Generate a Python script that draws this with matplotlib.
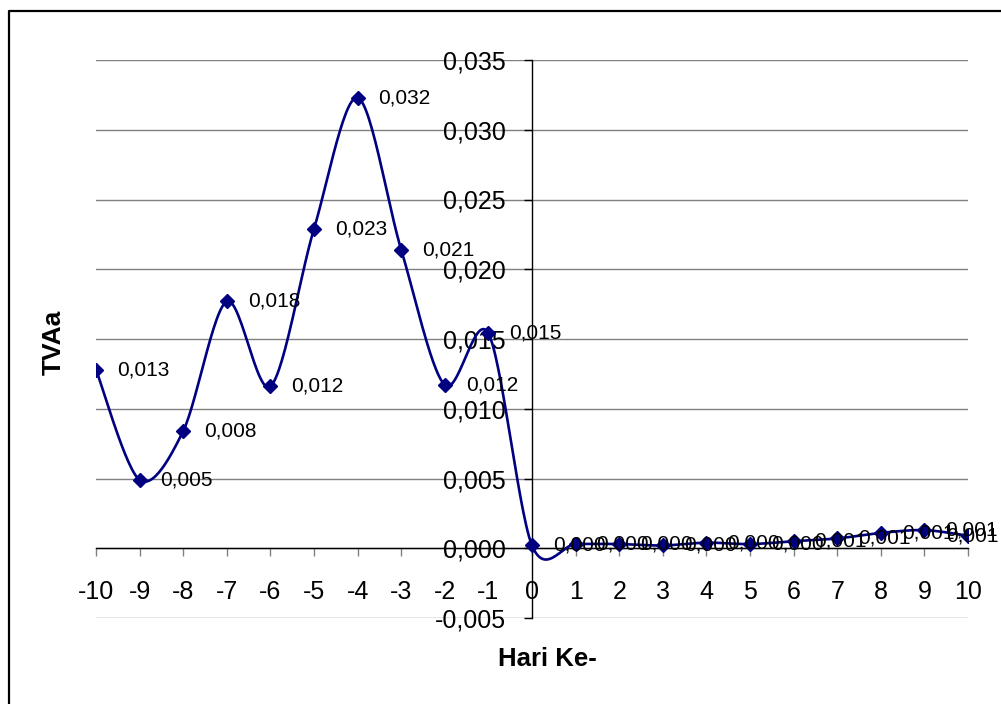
import numpy as np
import matplotlib.pyplot as plt
from matplotlib.lines import Line2D

plt.rcParams["font.family"] = ["Liberation Sans", "DejaVu Sans"]
plt.rcParams["axes.unicode_minus"] = False

# data
hari = [-10, -9, -8, -7, -6, -5, -4, -3, -2, -1, 0, 1, 2, 3, 4, 5, 6, 7, 8, 9, 10]
tvaa = [0.0128, 0.0049, 0.0084, 0.0177, 0.0116, 0.0229, 0.0323, 0.0214, 0.0117, 0.0154,
        0.0002, 0.0003, 0.0003, 0.0002, 0.0004, 0.0003, 0.0005, 0.0007, 0.0011, 0.0013, 0.0009]
yticks = [-0.005, 0.0, 0.005, 0.010, 0.015, 0.020, 0.025, 0.030, 0.035]


def smooth(x, y, n=30, k=6.5):
    # excel-like smoothed line (catmull-rom as cubic bezier)
    x = np.asarray(x, float)
    y = np.asarray(y, float)
    px = np.concatenate([[x[0]], x, [x[-1]]])
    py = np.concatenate([[y[0]], y, [y[-1]]])
    xs, ys = [], []
    t = np.linspace(0, 1, n)
    for i in range(1, len(px) - 2):
        p0 = np.array([px[i], py[i]])
        p3 = np.array([px[i + 1], py[i + 1]])
        p1 = p0 + (p3 - np.array([px[i - 1], py[i - 1]])) / k
        p2 = p3 - (np.array([px[i + 2], py[i + 2]]) - p0) / k
        b = ((1 - t) ** 3)[:, None] * p0 + (3 * (1 - t) ** 2 * t)[:, None] * p1 \
            + (3 * (1 - t) * t ** 2)[:, None] * p2 + (t ** 3)[:, None] * p3
        xs.extend(b[:, 0])
        ys.extend(b[:, 1])
    return xs, ys


W, H = 1001, 704
fig = plt.figure(figsize=(W / 100, H / 100), dpi=100)
ax = fig.add_axes([96 / W, 1 - 618 / H, 872 / W, 558 / H])

sx, sy = smooth(hari, tvaa)
ax.plot(sx, sy, color="#000080", lw=1.9, zorder=3)
ax.plot(hari, tvaa, ls="none", marker="D", ms=7.5, color="#000080", zorder=4)

for i, (xv, yv) in enumerate(zip(hari, tvaa)):
    txt = f"{yv:.3f}".replace(".", ",")
    if i == len(hari) - 1:
        # last label pushed back inside the chart, like excel does
        ax.annotate(txt, (xv, yv), xytext=(22, 0), textcoords="offset points",
                    ha="right", va="center", fontsize=15, zorder=5)
    else:
        ax.annotate(txt, (xv, yv), xytext=(15, 0), textcoords="offset points",
                    ha="left", va="center", fontsize=15, zorder=5)

ax.set_xlim(-10, 10)
ax.set_ylim(-0.005, 0.035)
ax.set_xticks(hari)
ax.set_yticks(yticks)
ax.set_yticklabels([f"{v:.3f}".replace(".", ",") for v in yticks])

for s in ["top", "right"]:
    ax.spines[s].set_visible(False)
ax.spines["left"].set_position(("data", 0))
ax.spines["bottom"].set_position(("data", 0))
ax.spines["left"].set_linewidth(1)
ax.spines["bottom"].set_linewidth(1)

ax.tick_params(axis="x", direction="out", length=6, width=1, pad=17, labelsize=18, color="#808080")
ax.tick_params(axis="y", direction="out", length=6, width=1, pad=13, labelsize=18)
ax.yaxis.grid(True, color="#808080", lw=1)
ax.set_axisbelow(True)

fig.text(547 / W, 1 - 659 / H, "Hari Ke-", ha="center", va="center", fontsize=18.5, fontweight="bold")
fig.text(54 / W, 1 - 342 / H, "TVAa", ha="center", va="center", rotation=90, fontsize=19, fontweight="bold")

# chart frame (only top and left visible)
fig.add_artist(Line2D([8.5 / W, 8.5 / W, 1.0], [0.0, 1 - 11 / H, 1 - 11 / H],
                      transform=fig.transFigure, color="black", lw=1.6))

fig.savefig("out.png", dpi=100)
